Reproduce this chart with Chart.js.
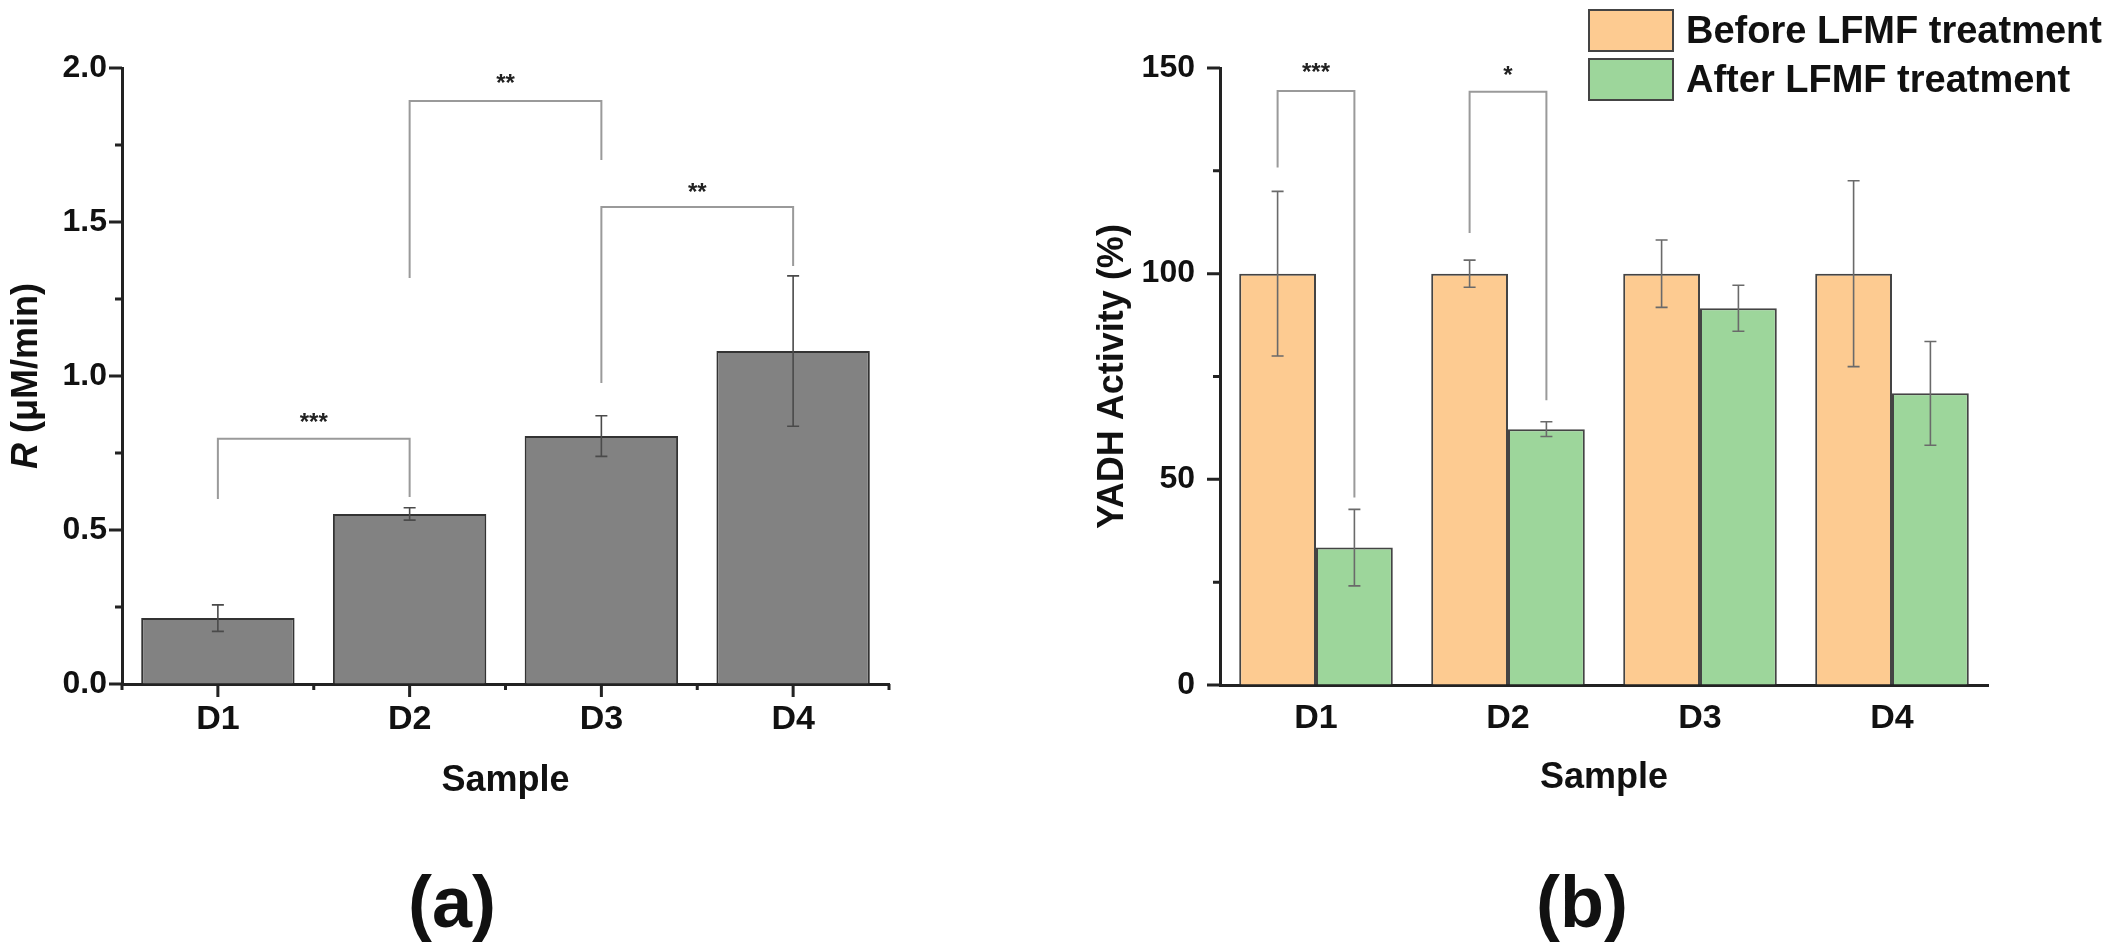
<!DOCTYPE html>
<html lang="en">
<head>
  <meta charset="UTF-8" />
  <title>Sample rate and YADH activity</title>
  <script src="https://cdn.jsdelivr.net/npm/chart.js"></script>
  <style>
    body {
      margin: 0;
      background: #fff;
      font-family: "Liberation Sans", Arial, sans-serif;
    }
    #page {
      position: relative;
      width: 2111px;
      height: 948px;
      overflow: hidden;
    }
    .box {
      position: absolute;
      top: 0;
    }
    .panel {
      position: absolute;
      width: 200px;
      text-align: center;
      font-weight: bold;
      font-size: 72px;
      line-height: 80px;
      color: #111;
    }
    .legend-row {
      position: absolute;
      left: 1588px;
      height: 43px;
      display: flex;
      align-items: center;
    }
    .swatch {
      width: 82px;
      height: 39px;
      border: 2px solid #444;
      margin-right: 12px;
    }
    .legend-row span {
      font-weight: bold;
      font-size: 38px;
      line-height: 43px;
      color: #111;
      white-space: nowrap;
    }
  </style>
</head>
<body>
<div id="page">
  <div class="box" style="left:0"><canvas id="rateChart" width="1055" height="948"></canvas></div>
  <div class="box" style="left:1056px"><canvas id="activityChart" width="1055" height="948"></canvas></div>

  <div class="panel" style="left:352px; top:862px">(a)</div>
  <div class="panel" style="left:1482px; top:862px">(b)</div>

  <div class="legend-row" style="top:9px"><div class="swatch" style="background:#FDCB91"></div><span>Before LFMF treatment</span></div>
  <div class="legend-row" style="top:58px"><div class="swatch" style="background:#9DD69B"></div><span>After LFMF treatment</span></div>
</div>

<script>
  // ---- data ----
  const samples = ['D1', 'D2', 'D3', 'D4'];

  // (a) reaction rate R, µM/min
  const rateValues = [0.214, 0.552, 0.805, 1.081];
  const rateErrors = [0.043, 0.020, 0.066, 0.244];

  // (b) YADH activity, %
  const beforeValues = [100, 100, 100, 100];
  const beforeErrors = [20, 3.3, 8.2, 22.6];
  const afterValues = [33.4, 62.2, 91.6, 70.9];
  const afterErrors = [9.3, 1.8, 5.6, 12.6];

  // significance brackets, in data units
  const rateBrackets = [
    { from: 0, to: 1, top: 0.796, leftEnd: 0.601, rightEnd: 0.607, stars: '***', starAt: 0.870 },
    { from: 1, to: 2, top: 1.893, leftEnd: 1.318, rightEnd: 1.701, stars: '**', starAt: 1.970 },
    { from: 2, to: 3, top: 1.549, leftEnd: 0.977, rightEnd: 1.357, stars: '**', starAt: 1.617 }
  ];
  const activityBrackets = [
    { cat: 0, top: 144.4, leftEnd: 125.8, rightEnd: 45.6, stars: '***', starAt: 150.4 },
    { cat: 1, top: 144.2, leftEnd: 109.9, rightEnd: 69.2, stars: '*', starAt: 149.8 }
  ];

  const FONT = '"Liberation Sans", Arial, sans-serif';
  const INK = '#111';
  Chart.defaults.font.family = FONT;
  Chart.defaults.color = INK;

  // error bars from dataset.errors
  const errorBars = {
    id: 'errorBars',
    afterDatasetsDraw(chart, args, opts) {
      const { ctx } = chart;
      const y = chart.scales.y;
      ctx.save();
      ctx.strokeStyle = opts.color;
      ctx.lineWidth = 1.6;
      chart.data.datasets.forEach((ds, i) => {
        chart.getDatasetMeta(i).data.forEach((bar, j) => {
          const v = ds.data[j], e = ds.errors[j];
          const yt = y.getPixelForValue(v + e);
          const yb = y.getPixelForValue(v - e);
          ctx.beginPath();
          ctx.moveTo(bar.x, yt); ctx.lineTo(bar.x, yb);
          ctx.moveTo(bar.x - 6, yt); ctx.lineTo(bar.x + 6, yt);
          ctx.moveTo(bar.x - 6, yb); ctx.lineTo(bar.x + 6, yb);
          ctx.stroke();
        });
      });
      ctx.restore();
    }
  };

  // brackets: each item gives two bar elements [dataset, index]
  function drawBrackets(chart, items) {
    const { ctx } = chart;
    const y = chart.scales.y;
    ctx.save();
    ctx.strokeStyle = '#9a9a9a';
    ctx.lineWidth = 2;
    items.forEach(b => {
      const x1 = chart.getDatasetMeta(b.a[0]).data[b.a[1]].x;
      const x2 = chart.getDatasetMeta(b.b[0]).data[b.b[1]].x;
      const yt = y.getPixelForValue(b.top);
      ctx.beginPath();
      ctx.moveTo(x1, y.getPixelForValue(b.leftEnd));
      ctx.lineTo(x1, yt);
      ctx.lineTo(x2, yt);
      ctx.lineTo(x2, y.getPixelForValue(b.rightEnd));
      ctx.stroke();
      ctx.fillStyle = '#222';
      ctx.font = 'bold 24px ' + FONT;
      ctx.textAlign = 'center';
      ctx.textBaseline = 'alphabetic';
      // asterisk glyph sits ~0.58em above the baseline
      ctx.fillText(b.stars, (x1 + x2) / 2, y.getPixelForValue(b.starAt) + 0.58 * 24);
    });
    ctx.restore();
  }

  // outward tick marks, minor ones halfway between majors
  function drawTicks(chart, withX) {
    const { ctx, chartArea } = chart;
    const x = chart.scales.x, y = chart.scales.y;
    ctx.save();
    ctx.strokeStyle = '#222';
    ctx.lineWidth = 3;
    ctx.beginPath();
    const vals = y.ticks.map(t => t.value);
    vals.forEach((v, i) => {
      const p = y.getPixelForValue(v);
      ctx.moveTo(chartArea.left - 13, p); ctx.lineTo(chartArea.left, p);
      if (i < vals.length - 1) {
        const m = y.getPixelForValue((v + vals[i + 1]) / 2);
        ctx.moveTo(chartArea.left - 7, m); ctx.lineTo(chartArea.left, m);
      }
    });
    if (withX) {
      samples.forEach((s, i) => {
        const p = x.getPixelForValue(i);
        ctx.moveTo(p, chartArea.bottom); ctx.lineTo(p, chartArea.bottom + 13);
      });
      for (let i = 0; i <= samples.length; i++) {
        const p = x.getPixelForValue(i - 0.5);
        ctx.moveTo(p, chartArea.bottom); ctx.lineTo(p, chartArea.bottom + 6);
      }
    }
    ctx.stroke();
    ctx.restore();
  }

  // y title of (a): italic R + upright unit
  const rTitle = {
    id: 'rTitle',
    afterDraw(chart) {
      const { ctx, chartArea } = chart;
      const parts = [['R', 'italic bold 36px ' + FONT], [' (\u03bcM/min)', 'bold 36px ' + FONT]];
      ctx.save();
      ctx.translate(27, (chartArea.top + chartArea.bottom) / 2);
      ctx.rotate(-Math.PI / 2);
      ctx.fillStyle = INK;
      ctx.textBaseline = 'middle';
      ctx.textAlign = 'left';
      let total = 0;
      parts.forEach(p => { ctx.font = p[1]; total += ctx.measureText(p[0]).width; });
      let cx = -total / 2;
      parts.forEach(p => { ctx.font = p[1]; ctx.fillText(p[0], cx, 0); cx += ctx.measureText(p[0]).width; });
      ctx.restore();
    }
  };

  const axisBorder = { display: true, color: '#222', width: 3 };
  const noGrid = { display: true, drawOnChartArea: false, drawTicks: false };

  // ---- (a) ----
  new Chart(document.getElementById('rateChart'), {
    type: 'bar',
    data: {
      labels: samples,
      datasets: [{
        data: rateValues,
        errors: rateErrors,
        backgroundColor: '#828282',
        borderColor: '#333',
        borderWidth: 2,
        barPercentage: 0.8,
        categoryPercentage: 1.0
      }]
    },
    options: {
      responsive: false,
      animation: false,
      layout: { padding: { top: 68, right: 166, bottom: 0, left: 0 } },
      plugins: {
        legend: { display: false },
        tooltip: { enabled: false },
        errorBars: { color: '#4a4a4a' }
      },
      scales: {
        x: {
          grid: noGrid,
          border: axisBorder,
          ticks: { font: { size: 34, weight: 'bold' }, padding: 15 },
          title: { display: true, text: 'Sample', font: { size: 36, weight: 'bold' }, padding: { top: 0, bottom: 145 } },
          afterFit: s => { s.height = 264; }
        },
        y: {
          min: 0,
          max: 2,
          grid: noGrid,
          border: axisBorder,
          ticks: { stepSize: 0.5, font: { size: 32, weight: 'bold' }, padding: 15, callback: v => v.toFixed(1) },
          afterFit: s => { s.width = 122; }
        }
      }
    },
    plugins: [errorBars, rTitle, {
      id: 'rateExtras',
      afterDraw(chart) {
        drawTicks(chart, true);
        drawBrackets(chart, rateBrackets.map(b => ({ ...b, a: [0, b.from], b: [0, b.to] })));
      }
    }]
  });

  // ---- (b) ----
  new Chart(document.getElementById('activityChart'), {
    type: 'bar',
    data: {
      labels: samples,
      datasets: [
        {
          label: 'Before LFMF treatment',
          data: beforeValues,
          errors: beforeErrors,
          backgroundColor: '#FDCB91',
          borderColor: '#444',
          borderWidth: 2,
          barPercentage: 1.0,
          categoryPercentage: 0.8
        },
        {
          label: 'After LFMF treatment',
          data: afterValues,
          errors: afterErrors,
          backgroundColor: '#9DD69B',
          borderColor: '#444',
          borderWidth: 2,
          barPercentage: 1.0,
          categoryPercentage: 0.8
        }
      ]
    },
    options: {
      responsive: false,
      animation: false,
      layout: { padding: { top: 68, right: 123, bottom: 0, left: 0 } },
      plugins: {
        legend: { display: false },
        tooltip: { enabled: false },
        errorBars: { color: '#6a6a6a' }
      },
      scales: {
        x: {
          grid: noGrid,
          border: axisBorder,
          ticks: { font: { size: 34, weight: 'bold' }, padding: 13 },
          title: { display: true, text: 'Sample', font: { size: 36, weight: 'bold' }, padding: { top: 0, bottom: 148 } },
          afterFit: s => { s.height = 263; }
        },
        y: {
          min: 0,
          max: 150,
          grid: noGrid,
          border: axisBorder,
          ticks: { stepSize: 50, font: { size: 32, weight: 'bold' }, padding: 25 },
          title: { display: true, text: 'YADH Activity (%)', font: { size: 36, weight: 'bold' }, padding: { top: 35, bottom: 0 } },
          afterFit: s => { s.width = 164; }
        }
      }
    },
    plugins: [errorBars, {
      id: 'activityExtras',
      afterDraw(chart) {
        drawTicks(chart, false);
        drawBrackets(chart, activityBrackets.map(b => ({ ...b, a: [0, b.cat], b: [1, b.cat] })));
      }
    }]
  });
</script>
</body>
</html>
